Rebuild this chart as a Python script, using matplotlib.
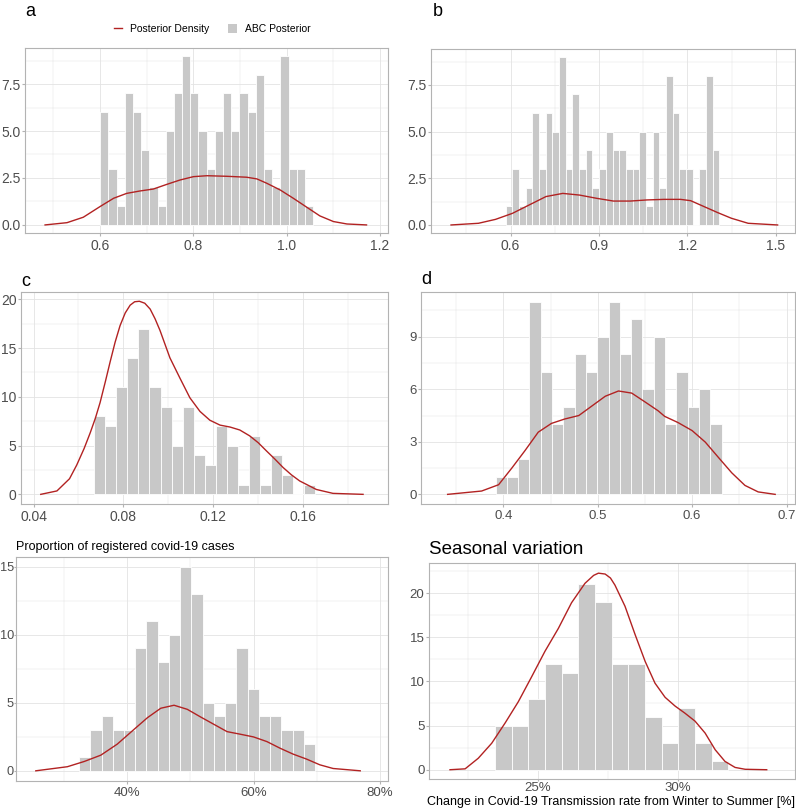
import numpy as np
import matplotlib
matplotlib.use("Agg")
import matplotlib.pyplot as plt
from matplotlib.lines import Line2D
from matplotlib.patches import Patch
from matplotlib.ticker import MultipleLocator, PercentFormatter

plt.rcParams["font.family"] = ["Liberation Sans", "DejaVu Sans"]

# ------------------------------------
# Histogram counts (ABC posterior) and bin layout
# ------------------------------------
a_counts = [6, 3, 1, 7, 6, 4, 2, 1, 5, 7, 9, 7, 5, 3, 5, 7, 5, 7, 6, 8, 3, 2, 9, 3, 3, 1]
a_bin_start, a_bin_width = 0.6, 0.01757

b_counts = [1, 3, 1, 2, 6, 3, 6, 5, 9, 3, 7, 3, 4, 2, 3, 5, 4, 4, 3, 3, 5, 1, 5, 2, 8, 6,
            3, 3, 0, 3, 8, 4]
b_bin_start, b_bin_width = 0.583, 0.02268

c_counts = [8, 7, 11, 14, 17, 11, 9, 5, 9, 4, 3, 7, 5, 1, 6, 1, 4, 2, 0, 1]
c_bin_start, c_bin_width = 0.067, 0.00492

d_counts = [1, 1, 2, 11, 7, 4, 5, 8, 7, 9, 11, 8, 10, 6, 9, 4, 7, 5, 6, 4]
d_bin_start, d_bin_width = 0.3918, 0.01197

e_counts = [1, 3, 4, 3, 3, 9, 11, 8, 10, 15, 13, 5, 4, 5, 9, 6, 4, 4, 3, 3, 2]
e_bin_start, e_bin_width = 0.3235, 0.0178

f_counts = [5, 5, 8, 12, 11, 21, 19, 12, 12, 6, 3, 7, 3, 1]
f_bin_start, f_bin_width = 0.2348, 0.00595

# ------------------------------------
# Posterior density curves
# ------------------------------------
a_dens_x = [0.482, 0.529, 0.564, 0.600, 0.629, 0.657, 0.686, 0.714, 0.743, 0.771, 0.800,
            0.829, 0.871, 0.914, 0.936, 0.957, 0.986, 1.014, 1.043, 1.071, 1.100, 1.129, 1.171]
a_dens_y = [0.0, 0.12, 0.41, 0.98, 1.42, 1.68, 1.81, 1.91, 2.16, 2.39, 2.57,
            2.62, 2.59, 2.54, 2.45, 2.22, 1.86, 1.42, 0.94, 0.48, 0.18, 0.05, 0.0]

b_dens_x = [0.398, 0.491, 0.549, 0.606, 0.663, 0.720, 0.777, 0.834, 0.891, 0.949, 1.006,
            1.063, 1.120, 1.177, 1.211, 1.257, 1.303, 1.349, 1.406, 1.506]
b_dens_y = [0.0, 0.09, 0.30, 0.62, 1.07, 1.52, 1.69, 1.60, 1.43, 1.28, 1.28,
            1.34, 1.37, 1.37, 1.30, 0.98, 0.66, 0.36, 0.09, 0.0]

c_dens_x = [0.0432, 0.0504, 0.0560, 0.0592, 0.0625, 0.0652, 0.0675, 0.0696, 0.0720, 0.0741,
            0.0763, 0.0785, 0.0808, 0.0830, 0.0850, 0.0871, 0.0895, 0.0919, 0.0941, 0.0963,
            0.0985, 0.1007, 0.1052, 0.1096, 0.1141, 0.1185, 0.1230, 0.1275, 0.1318, 0.1362,
            0.1400, 0.1437, 0.1475, 0.1511, 0.1548, 0.1585, 0.1659, 0.1733, 0.1867]
c_dens_y = [0.0, 0.35, 1.6, 3.0, 4.7, 6.3, 7.8, 9.4, 11.6, 13.6,
            15.6, 17.3, 18.6, 19.4, 19.75, 19.8, 19.6, 19.0, 18.0, 16.8,
            15.4, 14.0, 11.9, 9.9, 8.5, 7.6, 7.1, 6.9, 6.6, 6.0,
            5.3, 4.45, 3.6, 2.75, 2.0, 1.37, 0.5, 0.1, 0.0]

d_dens_x = [0.341, 0.377, 0.395, 0.409, 0.423, 0.437, 0.451, 0.465, 0.480, 0.494, 0.508,
            0.522, 0.536, 0.550, 0.564, 0.571, 0.585, 0.600, 0.614, 0.628, 0.642, 0.656,
            0.670, 0.688]
d_dens_y = [0.0, 0.19, 0.55, 1.5, 2.5, 3.55, 4.05, 4.3, 4.5, 5.05, 5.6,
            5.9, 5.78, 5.28, 4.77, 4.45, 4.1, 3.64, 2.98, 2.1, 1.23, 0.51,
            0.14, 0.0]

e_dens_x = [0.255, 0.305, 0.332, 0.358, 0.384, 0.411, 0.432, 0.453, 0.474, 0.495, 0.516,
            0.537, 0.558, 0.579, 0.600, 0.621, 0.642, 0.663, 0.684, 0.705, 0.726, 0.769]
e_dens_y = [0.0, 0.3, 0.69, 1.15, 1.96, 3.06, 3.91, 4.6, 4.82, 4.52, 3.96,
            3.42, 2.88, 2.69, 2.49, 2.15, 1.66, 1.22, 0.86, 0.44, 0.17, 0.0]

f_dens_x = [0.2187, 0.2241, 0.2288, 0.2336, 0.2384, 0.2431, 0.2479, 0.2526, 0.2574, 0.2621,
            0.2669, 0.2700, 0.2717, 0.2741, 0.2760, 0.2776, 0.2812, 0.2848, 0.2884, 0.2919,
            0.2955, 0.2991, 0.3026, 0.3062, 0.3098, 0.3134, 0.3169, 0.3205, 0.3241, 0.3318]
f_dens_y = [0.0, 0.1, 1.3, 3.0, 5.3, 7.7, 10.55, 13.4, 16.0, 18.9,
            21.1, 22.0, 22.25, 22.15, 21.7, 20.9, 18.5, 15.3, 12.25, 9.8,
            8.2, 7.2, 6.4, 5.5, 4.15, 2.26, 0.94, 0.26, 0.05, 0.0]

BAR_COL = "#C8C8C8"
LINE_COL = "#B22222"
GRID_COL = "#E3E3E3"
FRAME_COL = "#B3B3B3"
TICK_TXT = "#4D4D4D"

W, H = 796, 808
fig = plt.figure(figsize=(W / 100, H / 100), dpi=100)


def add_panel(left, top, right, bottom):
    return fig.add_axes([left / W, 1 - bottom / H, (right - left) / W, (bottom - top) / H])


def draw(ax, counts, start, width, dx, dy, xlim, ylim, xmaj, ymaj, fs=10):
    edges = start + width * np.arange(len(counts))
    ax.bar(edges, counts, width=width, align="edge", color=BAR_COL,
           edgecolor="white", linewidth=0.6, zorder=2)
    ax.plot(dx, dy, color=LINE_COL, linewidth=1.0, zorder=3)
    ax.set_xlim(*xlim)
    ax.set_ylim(*ylim)
    ax.xaxis.set_major_locator(MultipleLocator(xmaj))
    ax.xaxis.set_minor_locator(MultipleLocator(xmaj / 2))
    ax.yaxis.set_major_locator(MultipleLocator(ymaj))
    ax.yaxis.set_minor_locator(MultipleLocator(ymaj / 2))
    ax.grid(which="major", color=GRID_COL, linewidth=0.6, zorder=0)
    ax.grid(which="minor", color=GRID_COL, linewidth=0.35, zorder=0)
    ax.set_axisbelow(True)
    for s in ax.spines.values():
        s.set_color(FRAME_COL)
        s.set_linewidth(0.8)
    ax.tick_params(which="major", length=2.0, color=FRAME_COL, labelsize=fs,
                   labelcolor=TICK_TXT, pad=1.2)
    ax.tick_params(axis="x", which="major", pad=2.5)
    ax.tick_params(which="minor", length=0)


ax_a = add_panel(25, 48, 388, 233)
draw(ax_a, a_counts, a_bin_start, a_bin_width, a_dens_x, a_dens_y,
     (0.439, 1.217), (-0.43, 9.42), 0.2, 2.5)
ax_a.xaxis.set_major_formatter(lambda v, p: f"{v:.1f}")
ax_a.yaxis.set_major_formatter(lambda v, p: f"{v:.1f}")

ax_b = add_panel(431, 49, 795, 233)
draw(ax_b, b_counts, b_bin_start, b_bin_width, b_dens_x, b_dens_y,
     (0.33, 1.565), (-0.43, 9.42), 0.3, 2.5)
ax_b.xaxis.set_major_formatter(lambda v, p: f"{v:.1f}")
ax_b.yaxis.set_major_formatter(lambda v, p: f"{v:.1f}")

ax_c = add_panel(21, 292, 388, 504)
draw(ax_c, c_counts, c_bin_start, c_bin_width, c_dens_x, c_dens_y,
     (0.0344, 0.1978), (-0.99, 20.75), 0.04, 5)
ax_c.xaxis.set_major_formatter(lambda v, p: f"{v:.2f}")

ax_d = add_panel(421, 292, 795, 504)
draw(ax_d, d_counts, d_bin_start, d_bin_width, d_dens_x, d_dens_y,
     (0.3128, 0.709), (-0.55, 11.55), 0.1, 3, fs=9.5)
ax_d.xaxis.set_major_formatter(lambda v, p: f"{v:.1f}")

ax_e = add_panel(16, 557, 388, 781)
draw(ax_e, e_counts, e_bin_start, e_bin_width, e_dens_x, e_dens_y,
     (0.2236, 0.813), (-0.75, 15.72), 0.2, 5, fs=9.5)
ax_e.xaxis.set_major_formatter(PercentFormatter(1.0, decimals=0))
ax_e.tick_params(axis="y", labelsize=9.2, length=1.2, pad=0.4)

ax_f = add_panel(429, 563, 795, 779)
draw(ax_f, f_counts, f_bin_start, f_bin_width, f_dens_x, f_dens_y,
     (0.2112, 0.3419), (-1.05, 23.4), 0.05, 5, fs=9.5)
ax_f.xaxis.set_major_formatter(PercentFormatter(1.0, decimals=0))
ax_f.tick_params(axis="x", length=1.5, pad=0.6)

# panel letters and titles
fig.text(25 / W, 1 - 12 / H, "a", fontsize=13, va="center", ha="left")
fig.text(433 / W, 1 - 12 / H, "b", fontsize=13, va="center", ha="left")
fig.text(21 / W, 1 - 281 / H, "c", fontsize=13, va="center", ha="left")
fig.text(421 / W, 1 - 280 / H, "d", fontsize=13, va="center", ha="left")
fig.text(16 / W, 1 - 547 / H, "Proportion of registered covid-19 cases", fontsize=9,
         va="center", ha="left")
fig.text(429 / W, 1 - 550 / H, "Seasonal variation", fontsize=13.5, va="center", ha="left")
fig.text(611 / W, 1 - 801.5 / H, "Change in Covid-19 Transmission rate from Winter to Summer [%]",
         fontsize=9.0, va="center", ha="center")

handles = [Line2D([0], [0], color=LINE_COL, linewidth=1.0),
           Patch(facecolor=BAR_COL, edgecolor="none")]
fig.legend(handles, ["Posterior Density", "ABC Posterior"], loc="center",
           bbox_to_anchor=(212 / W, 1 - 29 / H), ncol=2, frameon=False, fontsize=7.5,
           handlelength=0.8, handleheight=1.0, columnspacing=1.8, handletextpad=0.8)

fig.savefig("out.png", dpi=100)
